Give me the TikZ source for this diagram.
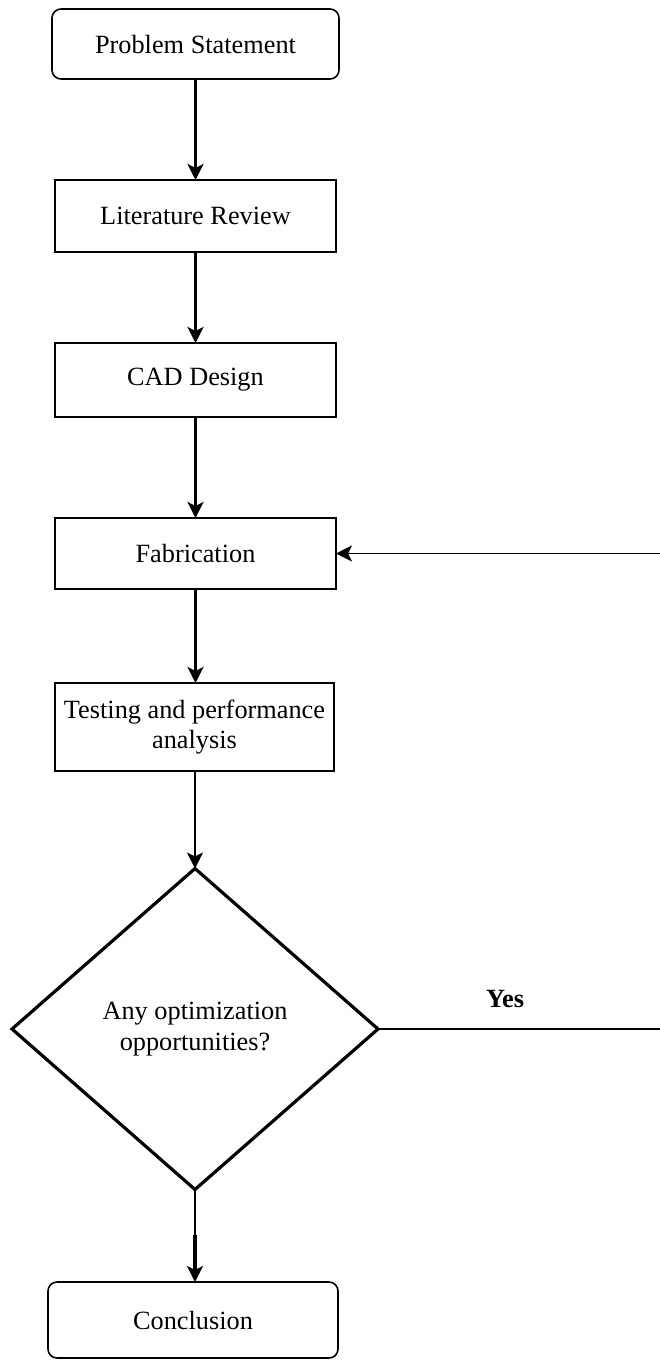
\documentclass[tikz,border=0pt]{standalone}
\usepackage{fontspec}
\setmainfont{Liberation Serif}
\usetikzlibrary{shapes.geometric,arrows.meta}
\tikzset{
  txt/.style={font=\fontsize{26.3}{30.5}\selectfont, align=center, text=black},
  box/.style={txt, draw, line width=1.6pt, inner sep=0pt, outer sep=0pt},
  roundbox/.style={box, rounded corners=9pt},
  decision/.style={txt, draw, diamond, line width=3.2pt, inner sep=0pt, outer sep=0pt},
  tip/.style={-{Stealth[length=16pt,width=16pt,inset=4pt]}},
  thickarrow/.style={tip, line width=3.2pt},
  thinline/.style={line width=1.6pt},
  thinarrow/.style={tip, line width=1.6pt}
}
\begin{document}
\begin{tikzpicture}[x=1pt,y=-1pt]
\useasboundingbox (0,0) rectangle (660,1361);
\node[roundbox, minimum width=287pt, minimum height=70pt] (ps) at (195.5,44) {Problem Statement};
\node[box, minimum width=281pt, minimum height=72pt] (lr) at (195.5,216) {Literature Review};
\node[box, minimum width=281pt, minimum height=74pt] (cad) at (195.5,380) {CAD Design};
\node[box, minimum width=281pt, minimum height=71pt] (fab) at (195.5,553.5) {Fabrication};
\node[box, minimum width=279pt, minimum height=88pt] (test) at (194.5,727) {Testing and performance\\analysis};
\node[decision, minimum width=366pt, minimum height=321pt] (dec) at (195,1029) {Any optimization\\opportunities?};
\node[roundbox, minimum width=290pt, minimum height=76pt] (conc) at (193,1320) {Conclusion};
\node[txt, font=\fontsize{26.3}{30.5}\selectfont\bfseries] (yes) at (505,999) {Yes};
\coordinate (fbin) at (660,553.5);
\coordinate (yesout) at (660,1029);
\coordinate (cmid) at (195,1235);

\draw[thickarrow] (ps.south) -- (lr.north);
\draw[thickarrow] (lr.south) -- (cad.north);
\draw[thickarrow] (cad.south) -- (fab.north);
\draw[thickarrow] (fab.south) -- (test.north -| fab.south);
\draw[thinarrow] (test.south -| dec.north) -- (dec.north);
\draw[thinline] (dec.east) -- (yesout);
\draw[thinarrow] (fbin) -- (fab.east);
\draw[thinline] (dec.south) -- (cmid);
\draw[thickarrow] (cmid) -- (conc.north -| cmid);
\end{tikzpicture}
\end{document}
